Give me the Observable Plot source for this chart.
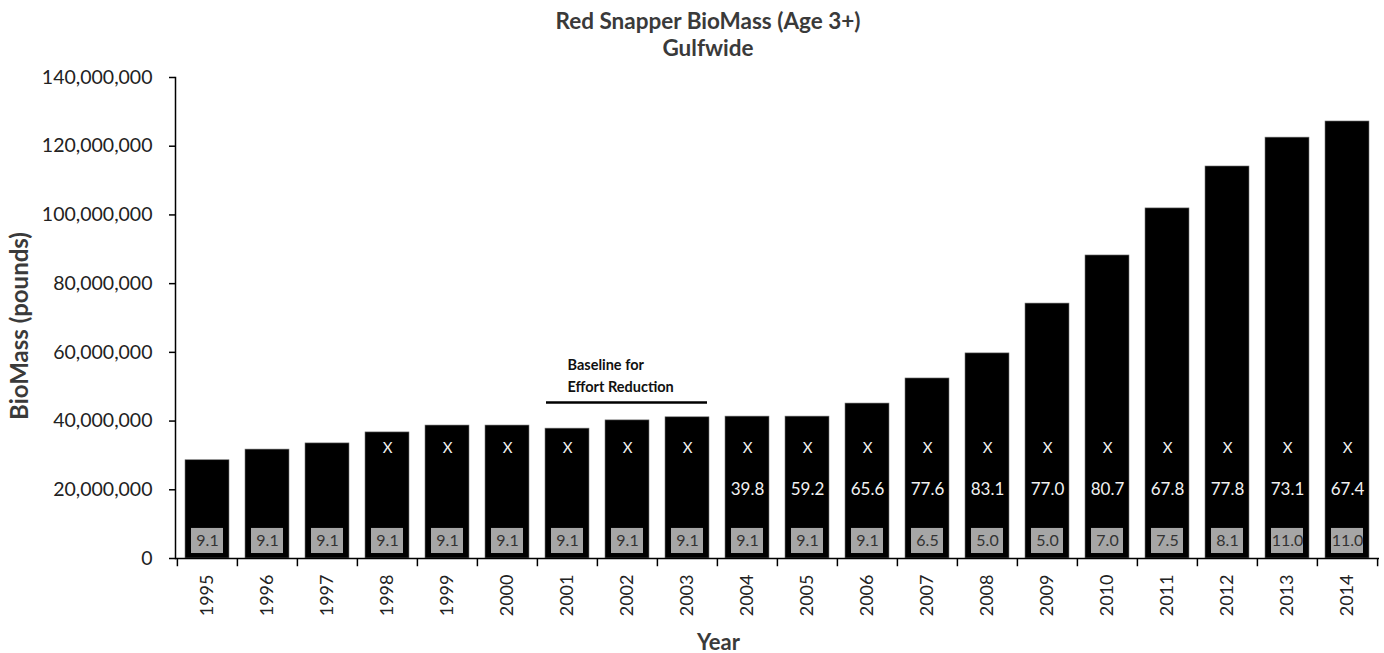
<!DOCTYPE html>
<html>
<head>
<meta charset="utf-8">
<script src="https://cdn.jsdelivr.net/npm/d3@7"></script>
<script src="https://cdn.jsdelivr.net/npm/@observablehq/plot@0.6"></script>
<style>
  html, body { margin: 0; padding: 0; background: #fff; }
  #title { height: 60px; text-align: center; font-family: Lato, "Open Sans", sans-serif; font-weight: bold; font-size: 22.5px; color: #3a3a3a; line-height: 27px; padding-top: 7px; padding-left: 32px; box-sizing: border-box; }
  #title div { height: 27px; }
  #chart svg { display: block; }
</style>
</head>
<body>
<div id="title"><div>Red Snapper BioMass (Age 3+)</div><div>Gulfwide</div></div>
<div id="chart"></div>
<script>
// ---- data ----
const years = ["1995","1996","1997","1998","1999","2000","2001","2002","2003","2004",
               "2005","2006","2007","2008","2009","2010","2011","2012","2013","2014"];
const biomass = [28.6, 31.7, 33.5, 36.7, 38.7, 38.7, 37.8, 40.2, 41.1, 41.3,
                 41.3, 45.1, 52.4, 59.7, 74.2, 88.2, 101.9, 114.1, 122.5, 127.2]; // millions of pounds
const xMarks = ["","","","X","X","X","X","X","X","X","X","X","X","X","X","X","X","X","X","X"];
const midLabels = ["","","","","","","","","","39.8","59.2","65.6","77.6","83.1","77.0","80.7","67.8","77.8","73.1","67.4"];
const boxLabels = ["9.1","9.1","9.1","9.1","9.1","9.1","9.1","9.1","9.1","9.1",
                   "9.1","9.1","6.5","5.0","5.0","7.0","7.5","8.1","11.0","11.0"];
const yTicks = [0, 20e6, 40e6, 60e6, 80e6, 100e6, 120e6, 140e6];
const baselineYears = ["2001", "2003"];
const baselineText = "Baseline for\nEffort Reduction";

const rows = years.map((y, i) => ({year: y, value: biomass[i] * 1e6, xm: xMarks[i], mid: midLabels[i], box: boxLabels[i]}));

const W = 1384, H = 593, mL = 175, mR = 5, mT = 17, mB = 95;
const step = (W - mL - mR) / years.length;
const font = "Lato, 'Open Sans', sans-serif";

const chart = Plot.plot({
  width: W, height: H,
  marginLeft: mL, marginRight: mR, marginTop: mT, marginBottom: mB,
  style: {fontFamily: font, background: "#fff", color: "#222"},
  x: {domain: years, paddingInner: 0.27, paddingOuter: 0.135, label: null},
  y: {domain: [0, 140e6], label: null},
  marks: [
    Plot.barY(rows, {x: "year", y: "value", fill: "#000", stroke: "#777", strokeWidth: 0.6}),
    // gray boxes
    Plot.barY(rows, {x: "year", y1: () => 1.45e6, y2: () => 8.75e6, fill: "#a6a6a6", insetLeft: 6, insetRight: 6}),
    Plot.text(rows, {x: "year", y: () => 5.1e6, text: "box", fill: "#333", fontSize: 16}),
    Plot.text(rows, {x: "year", y: () => 32e6, text: "xm", fill: "#f2f2f2", fontSize: 15}),
    Plot.text(rows, {x: "year", y: () => 20e6, text: "mid", fill: "#f2f2f2", fontSize: 17}),
    // axes
    Plot.axisY({ticks: yTicks, tickSize: 6, tickPadding: 17, fontSize: 19.5, tickFormat: d3.format(","), stroke: "#000", strokeWidth: 1.5}),
    Plot.axisX({tickSize: 0, tickPadding: 16, tickRotate: -90, fontSize: 18}),
    Plot.ruleY([0], {stroke: "#000", strokeWidth: 1.5}),
    Plot.frame({anchor: "left", stroke: "#000", strokeWidth: 1.5}),
    Plot.ruleX(years, {x: d => d, y1: () => 0, y2: () => -2.4e6, dx: -step / 2, stroke: "#000", strokeWidth: 1.5}),
    Plot.ruleX([years[years.length - 1]], {x: d => d, y1: () => 0, y2: () => -2.4e6, dx: step / 2, stroke: "#000", strokeWidth: 1.5}),
    // baseline annotation
    Plot.ruleY([45.4e6], {y: d => d, x1: () => baselineYears[0], x2: () => baselineYears[1], insetLeft: 1, insetRight: 2, stroke: "#000", strokeWidth: 2.5}),
    Plot.text([baselineText], {x: () => baselineYears[0], y: () => 53.85e6, text: d => d, textAnchor: "start", fontWeight: "bold", fontSize: 14.5, lineHeight: 1.52, fill: "#111"}),
    // axis titles
    Plot.text(["BioMass (pounds)"], {frameAnchor: "left", text: d => d, textAnchor: "middle", rotate: -90, dx: -155, dy: 8, fontWeight: "bold", fontSize: 24, fill: "#3a3a3a"}),
    Plot.text(["Year"], {frameAnchor: "bottom", text: d => d, dx: -59, dy: 91, fontWeight: "bold", fontSize: 22, fill: "#3a3a3a"})
  ]
});
document.getElementById("chart").appendChild(chart);
</script>
</body>
</html>
